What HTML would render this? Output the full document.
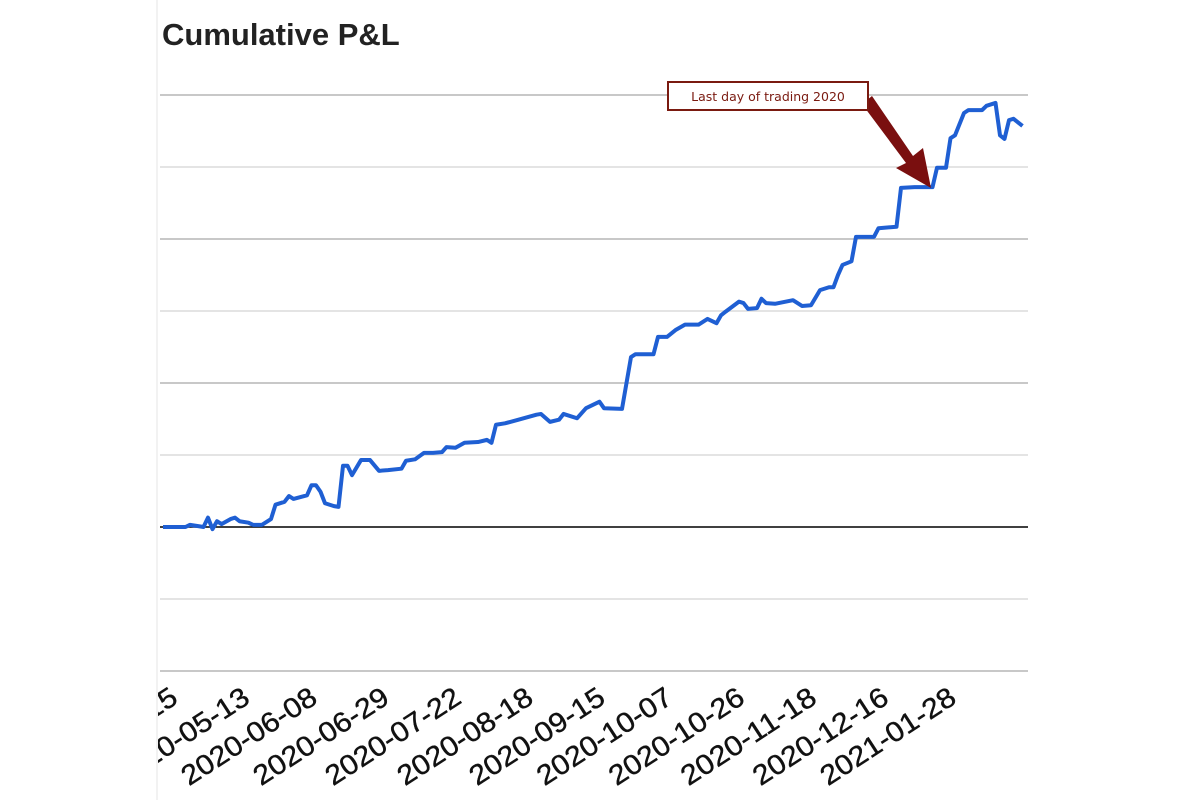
<!DOCTYPE html>
<html><head><meta charset="utf-8"><style>
html,body{margin:0;padding:0;background:#fff;width:1200px;height:800px;overflow:hidden}
svg{display:block}
</style></head><body>
<svg id="chart" width="1200" height="800" viewBox="0 0 1200 800" xmlns="http://www.w3.org/2000/svg">
<defs><clipPath id="clip"><rect x="158" y="0" width="1042" height="800"/></clipPath></defs>
<line x1="157" y1="0" x2="157" y2="800" stroke="#e6e6e6" stroke-width="1"/>
<text x="162" y="45" font-family="Liberation Sans, sans-serif" font-weight="bold" font-size="31" fill="#222">Cumulative P&amp;L</text>
<g id="grid"></g>
<g id="xlabels" clip-path="url(#clip)"></g>
<g id="series"></g>
<g>
<polygon points="862,104 872,96 913,156 923,148 931,188 896,168 906,163" fill="#7a0f0f"/>
<rect x="668" y="82" width="200" height="28" fill="#fff" stroke="#7a1a10" stroke-width="2"/>
<text x="768" y="101" text-anchor="middle" font-family="DejaVu Sans, sans-serif" font-size="12.5" fill="#7a1a10">Last day of trading 2020</text>
</g>
</svg>
<script>
const days = [0,5,6,8,9,10,11,12,13,15,16,17,19,20,22,23,24,25,27,28,29,32,33,34,35,36,38,39,40,41,42,44,46,48,50,53,54,56,58,60,62,63,65,67,70,72,73,74,76,79,83,84,86,88,89,92,94,97,98,102,104,105,109,110,112,114,116,119,121,123,124,125,128,129,130,132,133,134,136,140,142,144,146,148,149,150,151,153,154,158,159,163,164,167,171,172,174,175,176,178,179,182,183,185,186,187,188,189,191];
const pnl = [0,0,0.3,0.1,0,1.3,-0.3,0.8,0.4,1.1,1.3,0.8,0.6,0.3,0.3,0.7,1.1,3.1,3.5,4.3,3.9,4.4,5.8,5.8,4.9,3.3,2.9,2.8,8.5,8.5,7.2,9.3,9.3,7.8,7.9,8.1,9.2,9.4,10.3,10.3,10.4,11.1,11.0,11.7,11.8,12.1,11.7,14.2,14.4,14.9,15.6,15.7,14.6,14.9,15.7,15.1,16.5,17.4,16.5,16.4,23.6,24.0,24.0,26.4,26.4,27.4,28.1,28.1,28.9,28.3,29.4,29.9,31.3,31.1,30.3,30.4,31.7,31.1,31.0,31.5,30.7,30.8,32.9,33.3,33.3,35.0,36.4,36.9,40.3,40.3,41.5,41.7,47.1,47.2,47.2,49.9,49.9,54.0,54.4,57.5,57.9,57.9,58.5,58.9,54.4,53.9,56.5,56.7,55.7];
const yTicks = [-20,-10,0,10,20,30,40,50,60];
const tickLabels = ["2020-04-15","2020-05-13","2020-06-08","2020-06-29","2020-07-22","2020-08-18","2020-09-15","2020-10-07","2020-10-26","2020-11-18","2020-12-16","2021-01-28"];
const tickDays = [3,19,34,50,66,82,98,113,129,145,161,176];

const NS="http://www.w3.org/2000/svg";
const X0=163, XS=4.5, Y0=527, YS=7.2;
function sx(d){return X0+d*XS;}
function sy(v){return Y0-v*YS;}
const grid=document.getElementById('grid');
yTicks.forEach((t,i)=>{
  const l=document.createElementNS(NS,'line');
  
  
  l.setAttribute('x1',160);l.setAttribute('x2',1028);
  l.setAttribute('y1',sy(t));l.setAttribute('y2',sy(t));
  const dark=(t%20===0);
  l.setAttribute('stroke',t===0?'#000':(dark?'#c8c8c8':'#e4e4e4'));
  l.setAttribute('stroke-width',t===0?1.5:2);
  grid.appendChild(l);
});
const xl=document.getElementById('xlabels');
tickLabels.forEach((s,i)=>{
  const t=document.createElementNS(NS,'text');
  
  
  const x=sx(tickDays[i])+3, y=702;
  t.setAttribute('x',x);t.setAttribute('y',y);
  t.setAttribute('text-anchor','end');
  t.setAttribute('font-family','Liberation Sans, sans-serif');
  t.setAttribute('font-size','28');
  t.setAttribute('fill','#111');
  t.setAttribute('stroke','#111');
  t.setAttribute('stroke-width','0.4');
  t.setAttribute('textLength','155');
  t.setAttribute('lengthAdjust','spacingAndGlyphs');
  t.setAttribute('transform','rotate(-33 '+x+' '+y+')');
  t.textContent=s;
  xl.appendChild(t);
});
const p=document.createElementNS(NS,'polyline');


p.setAttribute('points',days.map((d,i)=>sx(d)+','+sy(pnl[i])).join(' '));
p.setAttribute('fill','none');
p.setAttribute('stroke','#1f5fd3');
p.setAttribute('stroke-width','4');
p.setAttribute('stroke-linejoin','round');
document.getElementById('series').appendChild(p);
</script>
</body></html>
